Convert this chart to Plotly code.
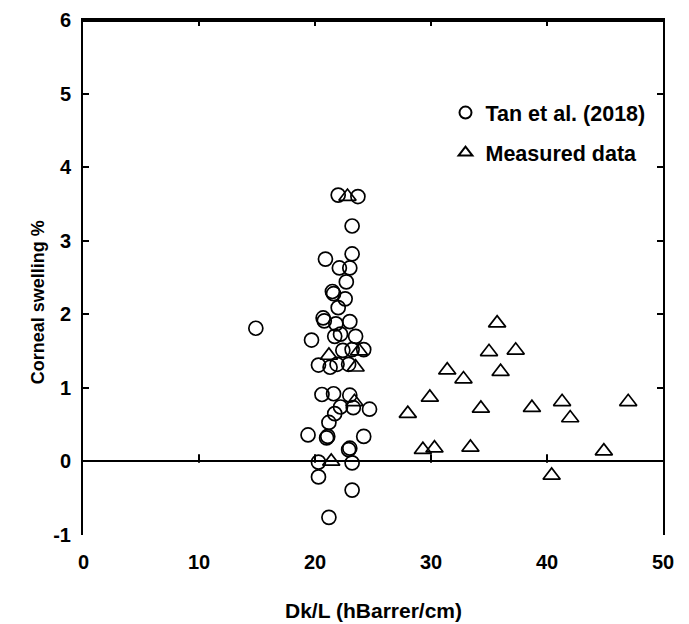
import plotly.graph_objects as go

# Tan et al. (2018) - circles
tan_x = [14.9, 22.0, 23.7, 23.2, 20.9, 23.2, 22.1, 23.0, 22.7, 21.5, 21.6, 22.6, 22.0,
         20.7, 20.8, 21.8, 23.0, 19.7, 22.2, 23.5, 21.7, 22.4, 23.2, 24.2, 20.3, 21.9,
         22.9, 21.3, 20.6, 21.6, 23.0, 23.3, 24.7, 22.2, 21.7, 21.2, 19.4, 21.0, 21.1,
         24.2, 22.9, 23.0, 20.3, 23.2, 20.3, 23.2, 21.2]
tan_y = [1.81, 3.62, 3.60, 3.20, 2.75, 2.82, 2.63, 2.63, 2.44, 2.31, 2.28, 2.21, 2.09,
         1.95, 1.91, 1.87, 1.90, 1.65, 1.73, 1.70, 1.70, 1.51, 1.52, 1.52, 1.31, 1.32,
         1.32, 1.28, 0.91, 0.92, 0.90, 0.73, 0.71, 0.74, 0.65, 0.53, 0.36, 0.32, 0.34,
         0.34, 0.16, 0.18, -0.01, -0.02, -0.21, -0.39, -0.76]

# Measured data - triangles
meas_x = [22.8, 23.8, 21.2, 23.5, 23.4, 21.4,
          35.7, 35.0, 37.3, 36.0, 31.4, 32.8, 29.9, 28.0, 34.3, 38.7, 41.3, 42.0,
          47.0, 29.3, 30.3, 33.4, 44.9, 40.4]
meas_y = [3.60, 1.50, 1.44, 1.28, 0.81, 0.00,
          1.88, 1.49, 1.51, 1.22, 1.24, 1.12, 0.87, 0.65, 0.72, 0.73, 0.81, 0.59,
          0.81, 0.16, 0.18, 0.19, 0.14, -0.19]

x_ticks = [0, 10, 20, 30, 40, 50]
y_ticks = [-1, 0, 1, 2, 3, 4, 5, 6]
y_tick_text = ["-1", "0", "1", "2", "3", "4", "5", "6"]
x_range = [0, 50]
y_range = [-1, 6]

FONT = "Liberation Sans"
BOLD = dict(family=FONT, color="black", weight="bold")

W, H = 689, 624
M = dict(l=83, r=26, t=20, b=89)
TICKLEN = 6
plot_h = H - M["t"] - M["b"]
y_per_px = (y_range[1] - y_range[0]) / plot_h

fig = go.Figure()
fig.add_trace(go.Scatter(
    x=tan_x, y=tan_y, mode="markers", name="Tan et al. (2018)", legendgroup="a",
    marker=dict(symbol="circle-open", size=14, color="black", line=dict(width=1.7, color="black")),
))
fig.add_trace(go.Scatter(
    x=meas_x, y=meas_y, mode="markers", name="Measured data", legendgroup="b",
    marker=dict(symbol="triangle-up-open", size=15, color="black", line=dict(width=1.7, color="black")),
))
# small upward tick marks on the y = 0 axis line (axis decoration from the tick list)
inner_ticks = x_ticks[1:-1]
fig.add_trace(go.Scatter(
    x=inner_ticks, y=[TICKLEN / 2 * y_per_px] * len(inner_ticks), mode="markers",
    showlegend=False, hoverinfo="skip",
    marker=dict(symbol="line-ns", size=TICKLEN, color="black", line=dict(width=2, color="black")),
))

# x tick labels and title below the plot (the x axis itself frames the top)
annotations = [dict(text=str(t), x=t, xref="x", y=-0.052, yref="paper", showarrow=False,
                    xanchor="center", yanchor="middle", font=dict(BOLD, size=20))
               for t in x_ticks]
annotations.append(dict(text="Dk/L (hBarrer/cm)", x=0.5, xref="paper", y=-0.146, yref="paper",
                        showarrow=False, xanchor="center", yanchor="middle",
                        font=dict(BOLD, size=21)))
annotations.append(dict(text="Corneal swelling %", textangle=-90, xref="paper", yref="paper",
                        x=-0.0776, y=0.452, xanchor="center", yanchor="middle", showarrow=False,
                        font=dict(BOLD, size=18)))

# top frame line (backup to the top x axis line)
shapes = [dict(type="line", xref="paper", yref="paper", x0=0, x1=1,
               y0=1 - 1 / plot_h, y1=1 - 1 / plot_h, layer="above",
               line=dict(color="black", width=2))]

fig.update_layout(
    width=W, height=H,
    margin=M,
    paper_bgcolor="white", plot_bgcolor="white",
    font=dict(family=FONT, color="black", size=20),
    showlegend=True,
    legend=dict(x=0.625, y=0.86, xanchor="left", yanchor="top",
                font=dict(BOLD, size=21.5),
                bgcolor="rgba(0,0,0,0)", tracegroupgap=9, itemsizing="constant"),
    xaxis=dict(range=x_range, tickvals=x_ticks, anchor="y", side="top", automargin=False,
               showline=True, linecolor="black", linewidth=2,
               ticks="inside", ticklen=TICKLEN, tickwidth=2, tickcolor="black",
               showticklabels=False, showgrid=False, zeroline=False),
    yaxis=dict(range=y_range, tickvals=y_ticks, ticktext=y_tick_text, automargin=False,
               showline=True, linecolor="black", linewidth=2,
               mirror="ticks", ticks="inside", ticklen=TICKLEN, tickwidth=2, tickcolor="black",
               showgrid=False, zeroline=True, zerolinecolor="black", zerolinewidth=2,
               ticklabelstandoff=6,
               tickfont=dict(BOLD, size=20)),
    shapes=shapes,
    annotations=annotations,
)

fig.write_html("out.html")
